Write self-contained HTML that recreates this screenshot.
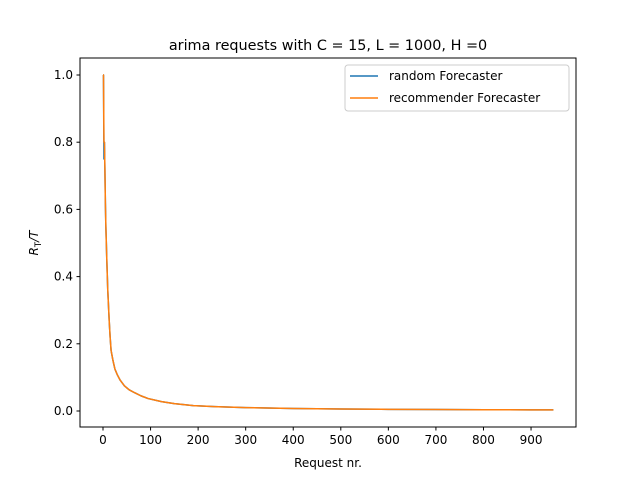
<!DOCTYPE html>
<html><head><meta charset="utf-8"><style>
body{margin:0;background:#fff}
svg{font-family:"DejaVu Sans","Liberation Sans",sans-serif}
</style></head><body>
<svg id="chart" width="640" height="480" xmlns="http://www.w3.org/2000/svg">
<rect width="640" height="480" fill="#fff"/>
<text x="328" y="50" text-anchor="middle" font-size="14.4">arima requests with C = 15, L = 1000, H =0</text>
<g id="plot"></g>
<rect x="80" y="58" width="496" height="369" fill="none" stroke="#000" stroke-width="1"/>
<text x="328" y="467" text-anchor="middle" font-size="12">Request nr.</text>
<text transform="translate(38,243) rotate(-90)" text-anchor="middle" font-size="12" font-style="italic">R<tspan font-size="8.5" dy="3" font-style="normal">T</tspan><tspan dy="-3">/T</tspan></text>
<g>
<rect x="345" y="65" width="224" height="46" rx="3" fill="#fff" fill-opacity="0.8" stroke="#ccc"/>
<line x1="350" y1="76" x2="378" y2="76" stroke="#1f77b4" stroke-width="1.5"/>
<text x="389" y="80" font-size="12">random Forecaster</text>
<line x1="350" y1="98" x2="378" y2="98" stroke="#ff7f0e" stroke-width="1.5"/>
<text x="389" y="102" font-size="12">recommender Forecaster</text>
</g>
</svg>
<script>
const xTicks=[0,100,200,300,400,500,600,700,800,900];
const yTicks=[0.0,0.2,0.4,0.6,0.8,1.0];
const requests=[0,1,2,3,4,5,6,8,10,11,13,15,17,21,25,30,36,45,55,67,80,95,123,150,190,235,300,400,500,600,700,800,900,947];
const randomValues=[1.0,1.0,0.75,0.8,0.72,0.62,0.55,0.45,0.36,0.33,0.27,0.22,0.18,0.15,0.125,0.108,0.092,0.075,0.063,0.054,0.045,0.037,0.028,0.022,0.016,0.013,0.010,0.0075,0.006,0.005,0.0043,0.0038,0.0033,0.0032];
const recommenderValues=[1.0,1.0,0.8,0.8,0.72,0.62,0.55,0.45,0.36,0.33,0.27,0.22,0.18,0.15,0.125,0.108,0.092,0.075,0.063,0.054,0.045,0.037,0.028,0.022,0.016,0.013,0.010,0.0075,0.006,0.005,0.0043,0.0038,0.0033,0.0032];
const NS="http://www.w3.org/2000/svg";
const plot=document.getElementById('plot');
const xS=v=>103+v*0.4756;
const yS=v=>411-v*336;
function mk(t,a){const e=document.createElementNS(NS,t);for(const k in a)e.setAttribute(k,a[k]);plot.appendChild(e);return e;}
xTicks.forEach(t=>{
 const l=mk('line',{x1:xS(t),x2:xS(t),y1:427,y2:430.5,stroke:'#000'});
 
 
 const tx=mk('text',{x:xS(t),y:444,'text-anchor':'middle','font-size':12});
 tx.textContent=t;
 
 
});
yTicks.forEach(t=>{
 const l=mk('line',{x1:76.5,x2:80,y1:yS(t),y2:yS(t),stroke:'#000'});
 
 
 const tx=mk('text',{x:73,y:yS(t)+4,'text-anchor':'end','font-size':12});
 tx.textContent=t.toFixed(1);
 
 
});
function line(vals,color,name){
 const d=requests.map((r,i)=>(i?'L':'M')+xS(r).toFixed(2)+','+yS(vals[i]).toFixed(2)).join(' ');
 const p=mk('path',{d:d,fill:'none',stroke:color,'stroke-width':1.5,'stroke-linejoin':'round'});
 
 
}
line(randomValues,'#1f77b4','random-forecaster-line');
line(recommenderValues,'#ff7f0e','recommender-forecaster-line');
</script>
</body></html>
